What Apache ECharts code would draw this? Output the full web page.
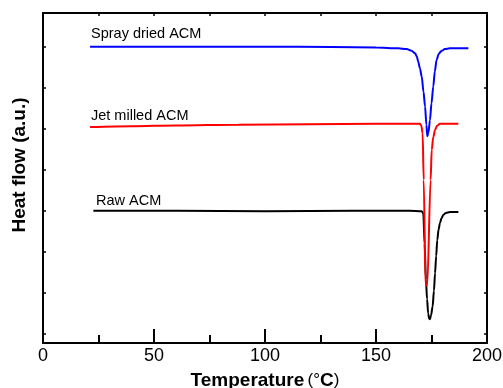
<!DOCTYPE html>
<html>
<head>
<meta charset="utf-8">
<script src="https://cdn.jsdelivr.net/npm/echarts@6/dist/echarts.min.js"></script>
<style>html,body{margin:0;padding:0;background:#fff}#c{width:503px;height:388px}</style>
</head>
<body>
<div id="c"></div>
<script>
// Temperature (°C), heat flow (a.u.) pairs
const rawACM = [
  [22.7, 3.0], [60, 3.0], [100, 2.99], [140, 3.0], [165, 3.0], [170.6, 2.99],
  [171.3, 2.94], [171.9, 2.2], [172.5, 1.32], [173.0, 0.85], [173.5, 0.5], [173.9, 0.38],
  [174.3, 0.36], [174.8, 0.45], [175.5, 0.67], [176.1, 1.05], [176.6, 1.48], [177.1, 1.9],
  [177.6, 2.29], [178.2, 2.55], [178.8, 2.7], [179.5, 2.82], [180.3, 2.9], [181.5, 2.95],
  [183.3, 2.97], [187.1, 2.97]
];
const jetMilledACM = [
  [21.2, 5.04], [40, 5.06], [60, 5.08], [88, 5.1], [120, 5.11], [150, 5.12],
  [165, 5.12], [169.8, 5.12], [170.4, 5.08], [171.0, 4.89], [171.5, 3.75], [172.3, 1.19],
  [173.1, 1.19], [174.6, 3.75], [175.1, 4.48], [175.8, 4.8], [176.6, 4.97], [177.5, 5.07],
  [178.8, 5.12], [187.1, 5.12]
];
const sprayDriedACM = [
  [21.2, 7.0], [60, 7.0], [100, 7.0], [130, 6.99], [150, 6.98], [160, 6.96], [163.8, 6.94],
  [166, 6.9], [167.6, 6.84], [168.4, 6.76], [169, 6.64], [169.8, 6.47], [170.6, 6.27],
  [171.4, 5.9], [172.1, 5.54], [172.7, 5.1], [173.1, 4.82], [173.6, 4.9], [174.3, 5.21],
  [175.0, 5.62], [175.8, 6.03], [176.5, 6.4], [177.3, 6.68], [178.3, 6.83], [179.6, 6.9],
  [181, 6.94], [183.3, 6.96], [191.6, 6.96]
];
const seriesNames = ['Raw ACM', 'Jet milled ACM', 'Spray dried ACM'];
const xTicks = [0, 50, 100, 150, 200];
const yTickValues = [0, 1, 2, 3, 4, 5, 6, 7];

const chart = echarts.init(document.getElementById('c'), null, {renderer: 'canvas'});
const FONT = '"Liberation Sans", Arial, sans-serif';
const axisLineStyle = {color: '#000', width: 2};

const option = {
  animation: false,
  backgroundColor: '#fff',
  grid: {left: 43, right: 16, top: 13, bottom: 45, containLabel: false, outerBoundsMode: 'none'},
  xAxis: [{
    type: 'value', position: 'bottom', min: xTicks[0], max: xTicks[xTicks.length - 1], interval: 50,
    axisLine: {show: true, onZero: false, lineStyle: axisLineStyle},
    axisTick: {show: true, inside: true, length: 14, lineStyle: {color: '#000', width: 2}},
    minorTick: {show: true, splitNumber: 2, length: 8, lineStyle: {color: '#000', width: 2}},
    splitLine: {show: false},
    axisLabel: {color: '#000', fontSize: 18, fontFamily: FONT, margin: 4},
    name: '{b|Temperature} {n|(°}{b|C}{n|)}',
    nameLocation: 'middle', nameGap: 28,
    nameTextStyle: {
      rich: {
        b: {fontSize: 19, fontWeight: 'bold', fontFamily: FONT, color: '#000'},
        n: {fontSize: 17, fontFamily: FONT, color: '#000'}
      }
    }
  }, {
    type: 'value', position: 'top', min: 0, max: 200, interval: 25,
    axisLine: {show: true, onZero: false, lineStyle: axisLineStyle},
    axisTick: {show: true, inside: true, length: 3, lineStyle: {color: '#000', width: 1.5}},
    axisLabel: {show: false}, splitLine: {show: false}
  }],
  yAxis: [{
    type: 'value', position: 'left', min: -0.22, max: 7.82,
    axisLine: {show: true, onZero: false, lineStyle: axisLineStyle},
    axisTick: {show: true, inside: true, length: 3, customValues: yTickValues, lineStyle: {color: '#000', width: 1.5}},
    axisLabel: {show: false}, splitLine: {show: false},
    name: 'Heat flow (a.u.)', nameLocation: 'middle', nameGap: 14,
    nameTextStyle: {fontSize: 19, fontWeight: 'bold', fontFamily: FONT, color: '#000', padding: [0, 0, 0, 26]}
  }, {
    type: 'value', position: 'right', min: -0.22, max: 7.82,
    axisLine: {show: true, onZero: false, lineStyle: axisLineStyle},
    axisTick: {show: true, inside: true, length: 3, customValues: yTickValues, lineStyle: {color: '#000', width: 1.5}},
    axisLabel: {show: false}, splitLine: {show: false}
  }],
  series: [
    {name: seriesNames[0], type: 'line', data: rawACM, color: '#000'},
    {name: seriesNames[1], type: 'line', data: jetMilledACM, color: '#ff0000'},
    {name: seriesNames[2], type: 'line', data: sprayDriedACM, color: '#0000ff'}
  ].map(s => Object.assign(s, {
    showSymbol: false, symbol: 'none', smooth: 0.3, smoothMonotone: 'x',
    lineStyle: {width: 2, color: s.color}, xAxisIndex: 0, yAxisIndex: 0
  })),
  graphic: [
    {type: 'text', left: 91, top: 26, style: {text: seriesNames[2], fontSize: 14.5, fontFamily: FONT, fill: '#000'}},
    {type: 'text', left: 91, top: 108, style: {text: seriesNames[1], fontSize: 14.5, fontFamily: FONT, fill: '#000'}},
    {type: 'text', left: 96, top: 193, style: {text: seriesNames[0], fontSize: 14.5, fontFamily: FONT, fill: '#000'}}
  ]
};
chart.setOption(option);
</script>
</body>
</html>
